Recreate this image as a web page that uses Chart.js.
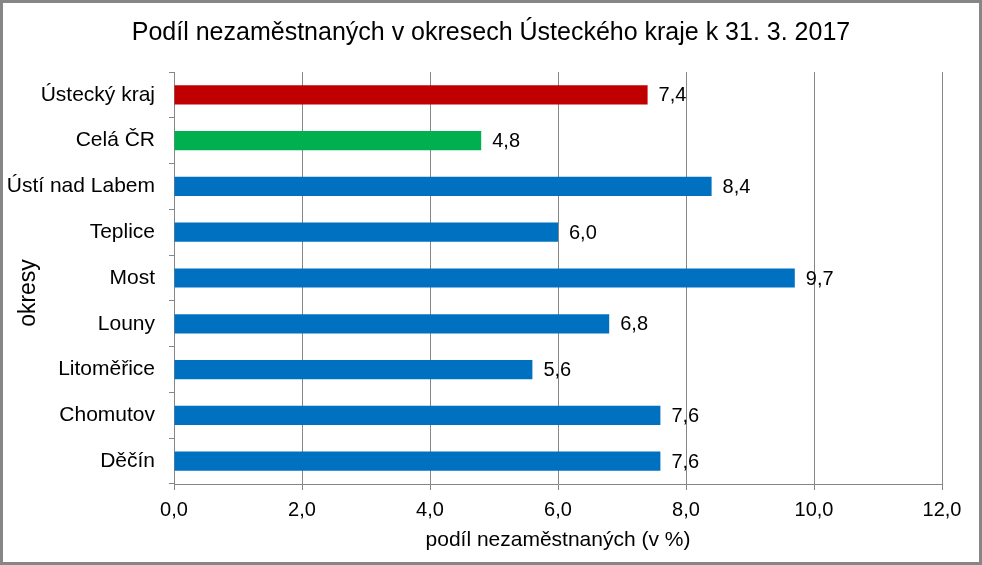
<!DOCTYPE html>
<html>
<head>
<meta charset="utf-8">
<script src="https://cdn.jsdelivr.net/npm/chart.js@4/dist/chart.umd.min.js"></script>
<style>
html,body{margin:0;padding:0;background:#fff;}
#wrap{width:982px;height:565px;position:relative;}
</style>
</head>
<body>
<div id="wrap"><canvas id="c" width="982" height="565"></canvas></div>
<script>
const categories = ["Ústecký kraj", "Celá ČR", "Ústí nad Labem", "Teplice", "Most", "Louny", "Litoměřice", "Chomutov", "Děčín"];
const values = [7.4, 4.8, 8.4, 6.0, 9.7, 6.8, 5.6, 7.6, 7.6];
const barColors = ["#C00000", "#00B050", "#0070C0", "#0070C0", "#0070C0", "#0070C0", "#0070C0", "#0070C0", "#0070C0"];
const xTicks = [0, 2, 4, 6, 8, 10, 12];
const chartTitle = "Podíl nezaměstnaných v okresech Ústeckého kraje k 31. 3. 2017";
const xTitle = "podíl nezaměstnaných (v %)";
const yTitle = "okresy";

const FONT = "'Liberation Sans', Arial, sans-serif";
const GRID = "#868686";
const fmt = v => v.toFixed(1).replace('.', ',');

const labelPlugin = {
  id: 'valueLabels',
  afterDatasetsDraw(chart) {
    const ctx = chart.ctx;
    const meta = chart.getDatasetMeta(0);
    ctx.save();
    ctx.font = "20px " + FONT;
    ctx.fillStyle = "#000";
    ctx.textAlign = "left";
    ctx.textBaseline = "middle";
    meta.data.forEach((bar, i) => {
      ctx.fillText(fmt(values[i]), bar.x + 11, bar.y + 1);
    });
    ctx.restore();
  }
};
const titlesPlugin = {
  id: 'titles',
  afterDraw(chart) {
    const ctx = chart.ctx;
    const area = chart.chartArea;
    ctx.save();
    ctx.fillStyle = "#000";
    ctx.textAlign = "center";
    ctx.textBaseline = "middle";
    ctx.font = "25px " + FONT;
    ctx.fillText(chartTitle, 491, 33);
    ctx.font = "23px " + FONT;
    ctx.translate(29, (area.top + area.bottom) / 2 + 15);
    ctx.rotate(-Math.PI / 2);
    ctx.fillText(yTitle, 0, 0);
    ctx.restore();
  }
};
const borderPlugin = {
  id: 'outerBorder',
  afterDraw(chart) {
    const ctx = chart.ctx;
    ctx.save();
    ctx.strokeStyle = GRID;
    ctx.lineWidth = 3;
    ctx.strokeRect(1.5, 1.5, chart.width - 3, chart.height - 3);
    ctx.restore();
  }
};

new Chart(document.getElementById('c'), {
  type: 'bar',
  data: {
    labels: categories,
    datasets: [{
      data: values,
      backgroundColor: barColors,
      borderWidth: 0,
      categoryPercentage: 1.0,
      barPercentage: 0.42
    }]
  },
  plugins: [labelPlugin, titlesPlugin, borderPlugin],
  options: {
    indexAxis: 'y',
    responsive: false,
    animation: false,
    events: [],
    layout: { padding: { left: 8, right: 40, top: 72, bottom: 0 } },
    plugins: {
      legend: { display: false },
      tooltip: { enabled: false },
      title: { display: false }
    },
    scales: {
      x: {
        min: 0, max: 12,
        afterBuildTicks(scale) { scale.ticks = xTicks.map(v => ({ value: v })); },
        afterFit(scale) { scale.height = 81; },
        ticks: {
          color: "#000",
          font: { family: FONT, size: 20 },
          padding: 8,
          callback: v => fmt(v)
        },
        grid: { color: GRID, lineWidth: 1, tickLength: 6, drawOnChartArea: true },
        border: { display: true, color: GRID, width: 1 },
        title: {
          display: true,
          text: xTitle,
          color: "#000",
          font: { family: FONT, size: 21 },
          padding: { top: 0, bottom: 12 }
        }
      },
      y: {
        afterFit(scale) { scale.width = 166; },
        ticks: {
          color: "#000",
          font: { family: FONT, size: 21 },
          padding: 14
        },
        grid: { offset: true, drawOnChartArea: false, color: GRID, tickLength: 5 },
        border: { display: true, color: GRID, width: 1 }
      }
    }
  }
});
</script>
</body>
</html>
